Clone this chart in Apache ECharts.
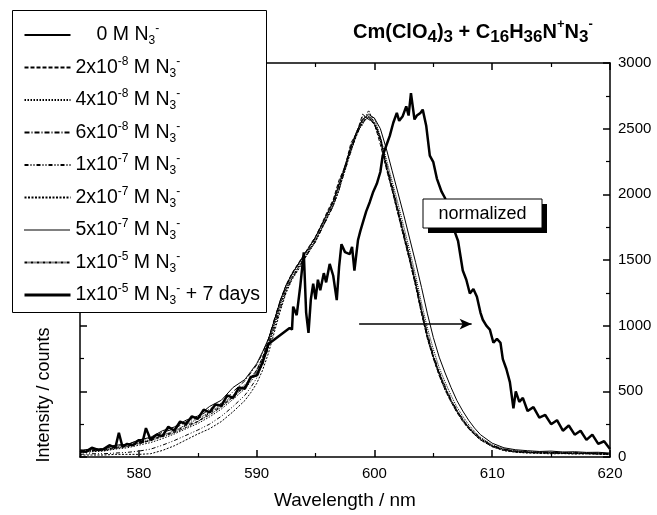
<!DOCTYPE html>
<html>
<head>
<meta charset="utf-8">
<script src="https://cdn.jsdelivr.net/npm/echarts@6.0.0/dist/echarts.min.js"></script>
<style>html,body{margin:0;padding:0;background:#fff}#c{width:657px;height:515px}</style>
</head>
<body>
<div id="c"></div>
<script>
// ---- data ----
const wl = [575,576,577,578,579,580,581,582,583,584,585,586,587,588,589,589.5,590,590.5,591,591.5,592,592.5,593,593.5,594,594.5,595,595.5,596,596.5,597,597.5,598,598.5,599,599.5,600,600.5,601,601.5,602,602.5,603,603.5,604,604.5,605,605.5,606,606.5,607,607.5,608,608.5,609,610,611,612,613,614,615,616,617,618,619,620];
const s0M = [50,62,58,90,95,130,150,200,228,280,312,385,432,530,590,
 650,710,800,900,1040,1190,1310,1395,1465,1535,1605,1675,1765,1855,1945,2075,2215,2360,2480,2570,2610,2580,2500,2350,2180,2010,1840,1660,1480,1290,1090,910,760,640,530,430,350,280,220,170,
 105,70,55,48,42,45,38,40,35,36,30];
const s2e8 = [35,50,50,75,80,110,125,165,190,240,270,335,385,465,540,
 600,660,760,890,1040,1190,1310,1400,1470,1540,1610,1680,1770,1870,1960,2110,2210,2390,2470,2610,2570,2540,2380,2200,2030,1850,1670,1490,1300,1090,900,750,620,510,420,340,270,215,170,130,
 80,52,40,35,30,34,28,30,26,28,22];
const s4e8 = [30,40,45,60,70,90,110,140,175,215,255,305,365,440,520,
 575,635,720,840,990,1140,1270,1360,1440,1510,1580,1650,1740,1830,1920,2030,2210,2320,2480,2530,2640,2540,2430,2210,2040,1860,1680,1500,1310,1100,910,760,630,520,430,350,280,220,175,135,
 82,50,38,32,36,28,30,25,28,22,20];
const s6e8 = [45,60,62,90,92,128,145,188,214,268,298,365,408,498,580,
 640,700,790,900,1050,1190,1300,1390,1460,1530,1590,1670,1760,1850,1950,2080,2220,2360,2480,2570,2590,2530,2420,2220,2050,1870,1690,1510,1320,1110,920,770,640,530,430,350,285,225,180,140,
 88,60,45,40,35,38,32,34,28,30,25];
const s1e7 = [20,25,25,30,35,45,60,90,125,165,205,250,310,385,470,
 530,600,700,830,980,1130,1260,1360,1430,1500,1570,1640,1730,1820,1910,2040,2180,2330,2460,2540,2600,2550,2440,2240,2070,1890,1710,1530,1340,1130,940,780,650,540,440,360,290,230,185,145,
 85,58,42,36,30,33,28,26,30,24,22];
const s2e7 = [15,15,15,20,20,20,25,50,85,130,175,215,270,345,430,
 490,560,660,790,950,1110,1250,1350,1420,1500,1570,1640,1730,1820,1910,2040,2180,2330,2450,2560,2580,2530,2410,2200,2030,1850,1670,1490,1300,1090,900,750,620,510,420,340,275,215,170,130,
 78,48,36,30,28,24,26,22,24,20,18];
const s5e7 = [40,50,55,70,85,105,135,165,200,245,290,340,400,470,550,
 600,665,750,870,1020,1170,1290,1390,1460,1530,1600,1670,1760,1850,1940,2090,2190,2370,2460,2590,2590,2580,2440,2270,2100,1930,1750,1570,1380,1170,980,820,680,570,470,380,310,245,195,150,
 92,62,48,40,38,34,36,30,32,28,26];
const s1e5 = [35,45,50,65,80,100,125,155,185,225,270,320,380,455,535,
 590,650,740,860,1010,1160,1280,1370,1440,1510,1580,1650,1740,1830,1930,2060,2200,2340,2460,2550,2590,2540,2430,2230,2060,1880,1700,1520,1330,1120,930,770,640,530,435,355,285,225,180,140,
 84,55,40,34,32,30,27,28,24,25,20];
// +7 days (bold) spectrum
const wl7d = [575,575.5,576,576.5,577,577.5,578,578.3,578.6,579,579.5,580,580.3,580.6,581,581.5,582,582.5,583,583.5,584,584.5,585,585.5,586,586.5,587,587.5,588,588.5,589,589.5,590,590.5,591,591.1,592.8,593.0,593.1,593.4,593.7,594.0,594.2,594.4,594.6,594.8,595.0,595.2,595.4,595.7,595.9,596.2,596.5,596.8,597.0,597.2,597.5,597.9,598.1,598.3,598.6,598.8,599.0,599.3,599.6,599.9,600.2,600.5,600.7,601.0,601.3,601.6,601.9,602.1,602.4,602.7,602.9,603.1,603.4,603.6,603.9,604.1,604.4,604.7,605.0,605.3,605.7,606.0,606.3,606.5,606.8,607.1,607.5,607.8,608.1,608.4,608.7,609.0,609.2,609.5,609.8,610.1,610.4,610.7,610.9,611.2,611.5,611.8,612.0,612.3,612.6,613.0,613.5,614.0,614.5,615.0,615.5,616.0,616.5,617.0,617.5,618.0,618.5,619.0,619.5,620.0];
const s7d = [50,40,70,55,60,90,70,185,80,100,90,130,110,220,130,170,160,230,200,270,250,310,290,360,340,400,390,470,450,530,520,610,620,720,860,870,983,970,1145,1080,1300,1558,1100,945,1200,1320,1200,1350,1270,1400,1330,1470,1380,1195,1450,1620,1560,1545,1600,1420,1650,1720,1780,1870,1940,2020,2080,2170,2295,2370,2445,2545,2620,2560,2595,2670,2600,2770,2570,2600,2620,2645,2520,2295,2245,2120,2020,1970,1850,1780,1720,1645,1420,1350,1245,1280,1220,1100,1045,1000,970,870,900,870,745,670,570,370,500,420,450,350,380,300,320,250,280,200,240,170,200,130,170,100,120,60];

const seriesNames = ['0 M','2x10-8 M','4x10-8 M','6x10-8 M','1x10-7 M','2x10-7 M','5x10-7 M','1x10-5 M','1x10-5 M + 7 days'];
const mantissa = ['0','2','4','6','1','2','5','1','1'];
const exponent = [null,'-8','-8','-8','-7','-7','-7','-5','-5'];
const suffix = ['','','','','','','','',' + 7 days'];
const xMajor = [580,590,600,610,620];
const xMinor = [575,585,595,605,615];
const yTicks = [0,500,1000,1500,2000,2500,3000];
const arrowFrom = [598.7,1012];
const arrowTo = [608.25,1012];

// ---- chart ----
const FONT = "'Liberation Sans', Arial, sans-serif";
const thinValues = [s0M,s2e8,s4e8,s6e8,s1e7,s2e7,s5e7,s1e5];
const dashes = ['solid',[4,2],[1.5,1.5],[5,2,1,2],[4,2,1,2,1,2],[2,1.5],[1,1],[3,1,1,1]];

const series = thinValues.map((vals,i)=>({
  name: seriesNames[i], type:'line', symbol:'none', showSymbol:false,
  data: wl.map((x,k)=>[x, vals[k]]),
  lineStyle:{color:'#000', width:1, type: dashes[i]},
  itemStyle:{color:'#000'},
  z: 2
}));
series.push({
  name: seriesNames[8], type:'line', symbol:'none', showSymbol:false,
  data: wl7d.map((x,k)=>[x, s7d[k]]),
  lineStyle:{color:'#000', width:2.5, type:'solid'},
  itemStyle:{color:'#000'},
  z: 2.5,
  markLine:{
    silent:true, symbol:['none','arrow'], symbolSize:[8,12], animation:false,
    label:{show:false},
    lineStyle:{color:'#000', width:1.5, type:'solid'},
    data:[[{coord:arrowFrom, symbol:'none'},{coord:arrowTo, symbol:'arrow'}]]
  }
});

const axisLineStyle = {show:true, lineStyle:{color:'#000', width:1.5}};
const chart = echarts.init(document.getElementById('c'), null, {renderer:'canvas'});
const xBase = {type:'value', min:575, max:620, gridIndex:0, splitLine:{show:false}};
const option = {
  backgroundColor:'#fff',
  animation:false,
  textStyle:{fontFamily:FONT, color:'#000'},
  grid:{left:80, right:47, top:63, bottom:52},
  title:{
    text:'{m|Cm(ClO}{b|4}{m|)}{b|3}{m| + C}{b|16}{m|H}{b|36}{m|N}{p|+}{m|N}{b|3}{p|-}',
    left:348, top:13,
    textStyle:{rich:{
      m:{fontSize:20, fontWeight:'bold', fontFamily:FONT, color:'#000', lineHeight:28, verticalAlign:'middle'},
      b:{fontSize:17, fontWeight:'bold', fontFamily:FONT, color:'#000', verticalAlign:'bottom'},
      p:{fontSize:13, fontWeight:'bold', fontFamily:FONT, color:'#000', verticalAlign:'top'}
    }}
  },
  legend:{
    orient:'vertical', left:23, top:23, padding:0, itemGap:8.5,
    itemWidth:46, itemHeight:14, selectedMode:false, z:5,
    itemStyle:{opacity:0, borderWidth:0},
    data: seriesNames.map((n,i)=> i===8 ? {name:n, lineStyle:{width:3}} : n),
    formatter: function(name){
      const i = seriesNames.indexOf(name);
      let s = '';
      if (exponent[i] === null) s += '{pad|}{n|' + mantissa[i] + ' M N}';
      else s += '{n|' + mantissa[i] + 'x10}{p|' + exponent[i] + '}{n| M N}';
      s += '{b|3}{p|-}';
      if (suffix[i]) s += '{n|' + suffix[i] + '}';
      return s;
    },
    textStyle:{rich:{
      n:{fontSize:19.5, fontFamily:FONT, color:'#000', lineHeight:24, verticalAlign:'middle'},
      p:{fontSize:12, fontFamily:FONT, color:'#000', verticalAlign:'top'},
      b:{fontSize:12, fontFamily:FONT, color:'#000', verticalAlign:'bottom'},
      pad:{width:21}
    }}
  },
  xAxis:[
    Object.assign({}, xBase, {position:'bottom', axisLine:axisLineStyle,
      axisTick:{show:true, inside:true, length:7, customValues:xMajor, lineStyle:{color:'#000', width:1.5}},
      axisLabel:{show:true, customValues:xMajor, fontSize:15, color:'#000', fontFamily:FONT, margin:9},
      name:'Wavelength / nm', nameLocation:'middle', nameGap:34,
      nameTextStyle:{fontSize:19, fontFamily:FONT, color:'#000'}}),
    Object.assign({}, xBase, {position:'bottom', axisLine:{show:false},
      axisTick:{show:true, inside:true, length:4, customValues:xMinor, lineStyle:{color:'#000', width:1.2}},
      axisLabel:{show:false}}),
    Object.assign({}, xBase, {position:'top', axisLine:axisLineStyle,
      axisTick:{show:true, inside:true, length:7, customValues:xMajor, lineStyle:{color:'#000', width:1.5}},
      axisLabel:{show:false}}),
    Object.assign({}, xBase, {position:'top', axisLine:{show:false},
      axisTick:{show:true, inside:true, length:4, customValues:xMinor, lineStyle:{color:'#000', width:1.2}},
      axisLabel:{show:false}})
  ],
  yAxis:[
    {type:'value', min:yTicks[0], max:yTicks[yTicks.length-1], interval:500, position:'left',
     axisLine:axisLineStyle, splitLine:{show:false},
     axisTick:{show:true, inside:true, length:7, lineStyle:{color:'#000', width:1.5}},
     minorTick:{show:true, splitNumber:2, length:4, lineStyle:{color:'#000', width:1.2}},
     axisLabel:{show:false}},
    {type:'value', min:yTicks[0], max:yTicks[yTicks.length-1], interval:500, position:'right',
     axisLine:axisLineStyle, splitLine:{show:false},
     axisTick:{show:true, inside:true, length:7, lineStyle:{color:'#000', width:1.5}},
     minorTick:{show:true, splitNumber:2, length:4, lineStyle:{color:'#000', width:1.2}},
     axisLabel:{show:true, fontSize:15, color:'#000', fontFamily:FONT, margin:8,
       formatter:function(v){return String(v);}}}
  ],
  series: series,
  graphic:[
    {type:'rect', left:12, top:10, z:3, shape:{width:254, height:302}, style:{fill:'#fff', stroke:'#000', lineWidth:1}},
    {type:'text', x:44, y:395, rotation:Math.PI/2, z:10,
     style:{text:'Intensity / counts', font:'18px '+FONT, fill:'#000', align:'center', verticalAlign:'middle'}},
    {type:'rect', x:428, y:204, z:10, shape:{width:119, height:29}, style:{fill:'#000'}},
    {type:'rect', x:423, y:199, z:11, shape:{width:119, height:29}, style:{fill:'#fff', stroke:'#000', lineWidth:1}},
    {type:'text', x:482.5, y:214, z:12,
     style:{text:'normalized', font:'18px '+FONT, fill:'#000', align:'center', verticalAlign:'middle'}}
  ]
};
chart.setOption(option);
</script>
</body>
</html>
